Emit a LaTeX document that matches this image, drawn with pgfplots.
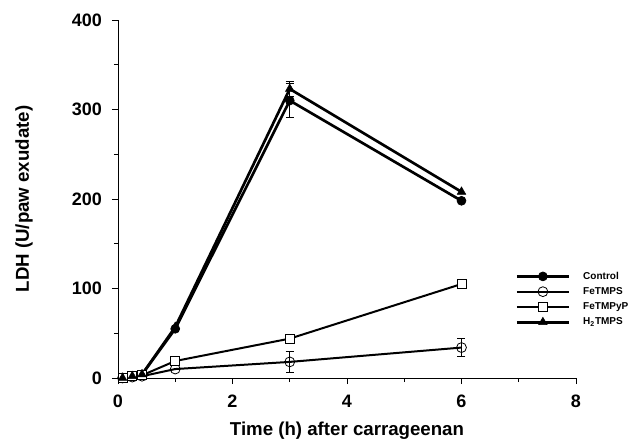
\documentclass[border=0pt]{standalone}
\usepackage{fontspec}
\setmainfont{Liberation Sans}
\usepackage{pgfplots}
\pgfplotsset{compat=1.18}

\begin{document}
\begin{tikzpicture}
  \begin{axis}[
      scale only axis, width=343.5pt, height=268.5pt,
      xmin=0, xmax=8, ymin=0, ymax=400,
      axis lines*=left, axis line style={line width=0.7pt},
      xtick={0,2,4,6,8}, minor xtick={1,3,5,7},
      ytick={0,100,200,300,400}, minor ytick={50,150,250,350},
      tick align=outside, tick style={black, line width=0.7pt},
      major tick length=4.5pt, minor tick length=3pt,
      /pgf/number format/assume math mode=true,
      tick label style={font=\fontsize{13.5}{15}\selectfont\bfseries},
      yticklabel style={xshift=-4pt},
      xticklabel style={yshift=-5pt},
      xlabel={Time (h) after carrageenan},
      ylabel={LDH (U/paw exudate)},
      xlabel style={at={(axis description cs:0.5,-0.148)}, anchor=center,
        font=\fontsize{14}{16}\selectfont\bfseries},
      ylabel style={at={(axis description cs:-0.205,0.5)}, anchor=center,
        font=\fontsize{14}{16}\selectfont\bfseries},
      clip=false,
      every axis plot/.append style={black},
      error bars/error bar style={line width=0.6pt},
      error bars/error mark options={rotate=90, mark size=3pt, line width=0.6pt},
      legend style={at={(axis cs:6.87,122)}, anchor=north west, draw=none, fill=none,
        font=\fontsize{7.5}{8}\selectfont\bfseries,
        nodes={inner sep=0pt, text height=5.5pt, text depth=1.5pt},
        row sep=4.25pt, column sep=9.75pt},
      legend cell align=left,
      legend image code/.code={
        \draw[mark repeat=2, mark phase=2] plot coordinates {(0pt,0pt) (19.5pt,0pt) (39pt,0pt)};},
    ]
    % Control
    \addplot[line width=2pt, mark=*, mark size=3.3pt, mark options={solid, fill=black, line width=0.6pt},
      error bars/.cd, y dir=both, y explicit]
      coordinates {(0.08,0) (0.25,2) (0.42,4) (1,55) (3,310) +- (0,19) (6,198)};
    \addlegendentry{Control}
    % FeTMPS
    \addplot[line width=1.5pt, mark=o, mark size=3.7pt, mark options={solid, fill=white, line width=0.6pt},
      error bars/.cd, y dir=both, y explicit]
      coordinates {(0.08,0) (0.25,1) (0.42,2) (1,10) (3,18) +- (0,12) (6,34) +- (0,10)};
    \addlegendentry{FeTMPS}
    % FeTMPyP
    \addplot[line width=1.5pt, mark=square*, mark size=3.4pt, mark options={solid, fill=white, line width=0.6pt}]
      coordinates {(0.08,0) (0.25,2) (0.42,3) (1,19) (3,44) (6,105)};
    \addlegendentry{FeTMPyP}
    % H2TMPS
    \addplot[line width=2pt, mark=triangle*, mark size=3.7pt, mark options={solid, fill=black, line width=0.4pt},
      error bars/.cd, y dir=both, y explicit]
      coordinates {(0.08,0) (0.25,2) (0.42,4) (1,57) (3,323) +- (0,8) (6,208)};
    \addlegendentry{H$_\mathbf{2}$TMPS}
    \coordinate (bl) at (rel axis cs:0,0);
  \end{axis}
  \pgfresetboundingbox
  \path[use as bounding box] ([shift={(-88.5pt,-46.5pt)}]bl) rectangle ([shift={(390.75pt,283.5pt)}]bl);
\end{tikzpicture}
\end{document}
